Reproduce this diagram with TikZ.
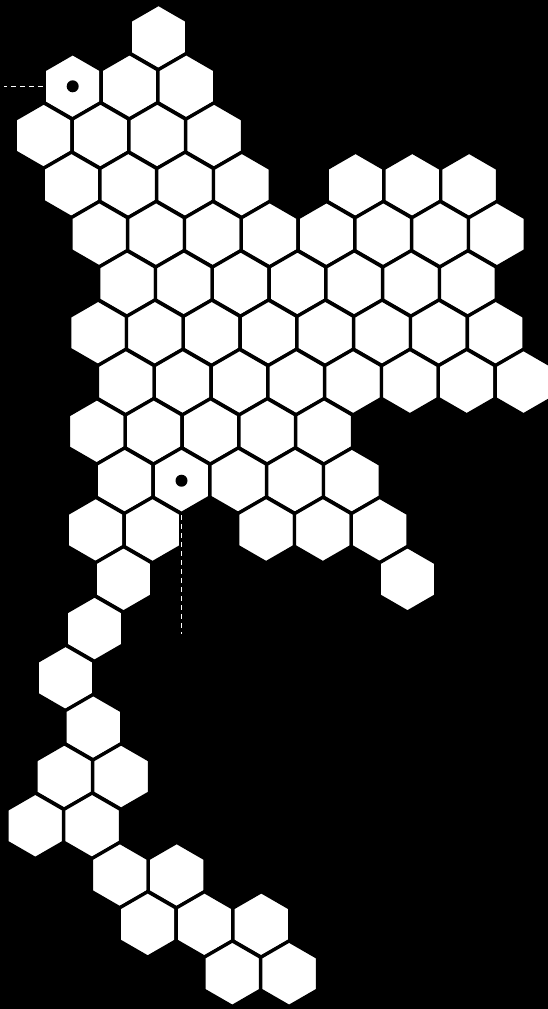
\documentclass[tikz,border=0pt]{standalone}
\usetikzlibrary{shapes.geometric}
\tikzset{
  hexcell/.style={regular polygon,regular polygon sides=6,shape border rotate=30,draw=black,fill=white,line width=3.4pt,minimum size=65.6pt,inner sep=0pt},
  hole/.style={fill=black},
  leader/.style={draw=white,line width=1.2pt,dash pattern=on 5pt off 4pt},
}
\begin{document}
\begin{tikzpicture}[x=1pt,y=-1pt]
\useasboundingbox (0,0) rectangle (548,1009);
\fill[black] (0,0) rectangle (548,1009);
\clip (0,0) rectangle (548,1009);
\foreach \r/\ks in {1/{5},2/{2,4,6},3/{1,3,5,7},4/{2,4,6,8,12,14,16},
  5/{3,5,7,9,11,13,15,17},6/{4,6,8,10,12,14,16},7/{3,5,7,9,11,13,15,17},
  8/{4,6,8,10,12,14,16,18},9/{3,5,7,9,11},10/{4,6,8,10,12},11/{3,5,9,11,13},
  12/{4,14},13/{3},14/{2},15/{3},16/{2,4},17/{1,3},18/{4,6},19/{5,7,9},20/{8,10}}{
  \foreach \k in \ks{
    \pgfmathsetmacro\hx{16.5-0.6*(\r-1)+28.4*\k}
    \pgfmathsetmacro\hy{37+49.3*(\r-1)}
    \node[hexcell] (c-\r-\k) at (\hx,\hy) {};
  }
}
\fill[hole] (c-2-2) circle (6pt);
\fill[hole] (c-10-6) circle (6pt);
\path (c-2-2.180) ++(-39,0) coordinate (tagA);
\path (c-10-6.270) ++(0,119) coordinate (tagB);
\draw[leader] (c-2-2.180) -- (tagA);
\draw[leader] (c-10-6.270) -- (tagB);
\end{tikzpicture}
\end{document}
